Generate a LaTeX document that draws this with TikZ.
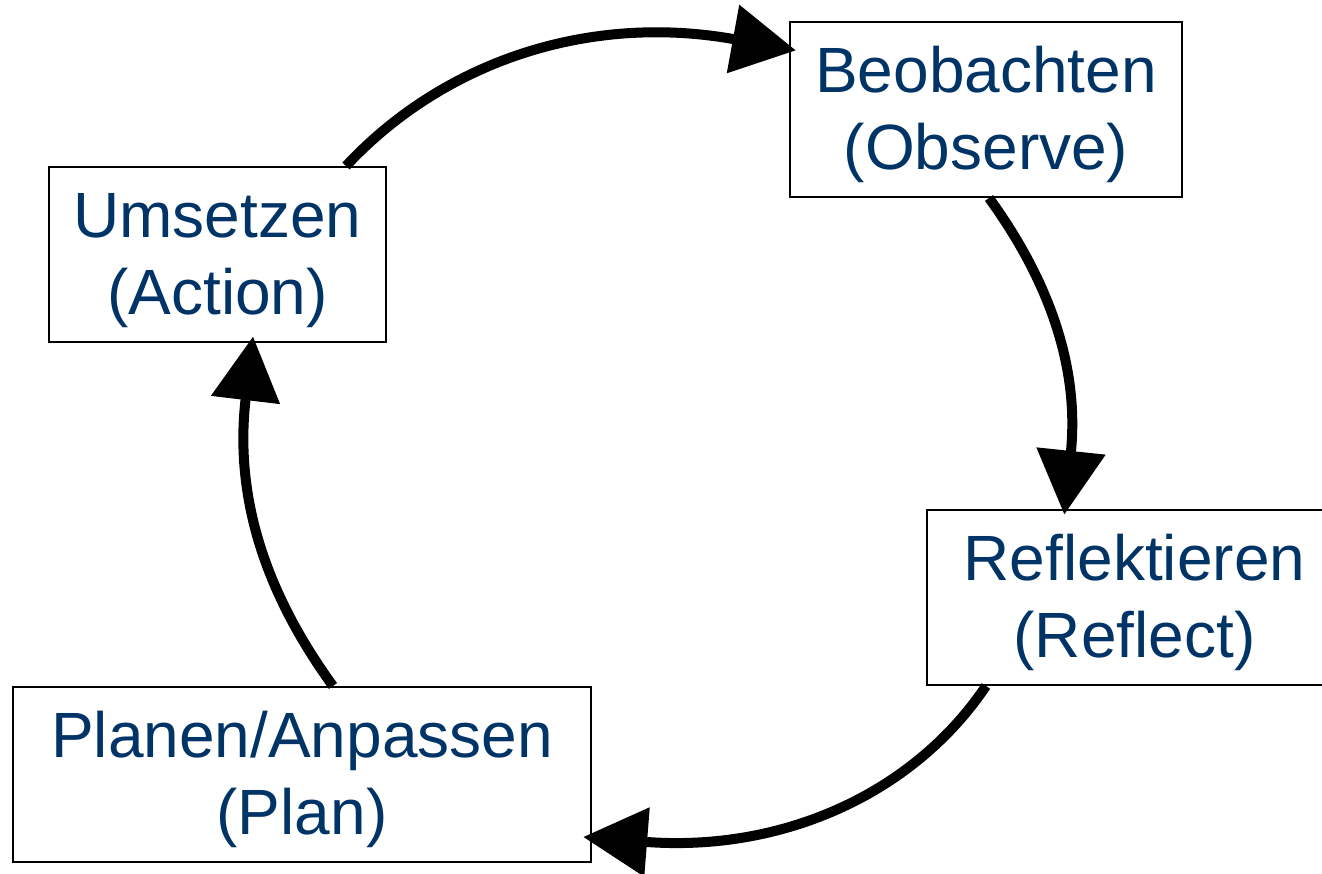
\documentclass[tikz,border=0pt]{standalone}
\usepackage{fontspec}
\setmainfont{Liberation Sans}
\usetikzlibrary{arrows.meta,calc}
\definecolor{txtblue}{RGB}{0,51,102}
\newcommand\lstrut{\rule[-10pt]{0pt}{66pt}}
\begin{document}
\begin{tikzpicture}[x=1pt,y=1pt,
  stagebox/.style={draw=black,line width=2pt,inner sep=0pt,minimum height=175pt,
    align=center,text=txtblue,font=\fontsize{64pt}{77pt}\selectfont},
  cyclearrow/.style={line width=10pt,-{Triangle[length=64pt,width=67pt]},shorten >=-64pt}]
\useasboundingbox (0,0) rectangle (1322,873);
\node[stagebox,minimum width=392pt] (obs) at (986,763.5) {Beobachten\lstrut\\(Observe)\lstrut};
\node[stagebox,minimum width=337pt] (act) at (217.5,618.5) {Umsetzen\lstrut\\(Action)\lstrut};
\node[stagebox,minimum width=415pt] (ref) at (1134.5,275.5) {Reflektieren\lstrut\\(Reflect)\lstrut};
\node[stagebox,minimum width=578pt] (plan) at (302,98.5) {Planen/Anpassen\lstrut\\(Plan)\lstrut};
\coordinate (s1) at ($(act.north west)+(298,0)$);
\coordinate (b1) at ($(obs.north west)+(-56,-18)$);
\coordinate (s2) at ($(obs.south west)+(200,0)$);
\coordinate (b2) at ($(ref.north west)+(145,58)$);
\coordinate (s3) at ($(ref.south west)+(60,0)$);
\coordinate (b3) at ($(plan.south east)+(55,21)$);
\coordinate (s4) at ($(plan.north west)+(321,0)$);
\coordinate (b4) at ($(act.south west)+(197.5,-57)$);
\draw[cyclearrow] (s1) to[out=47,in=169.7,looseness=0.91] (b1);
\draw[cyclearrow] (s2) to[out=-54,in=84,looseness=0.88] (b2);
\draw[cyclearrow] (s3) to[out=-124,in=-4.5,looseness=0.91] (b3);
\draw[cyclearrow] (s4) to[out=126,in=-96.8,looseness=0.9] (b4);
\end{tikzpicture}
\end{document}
